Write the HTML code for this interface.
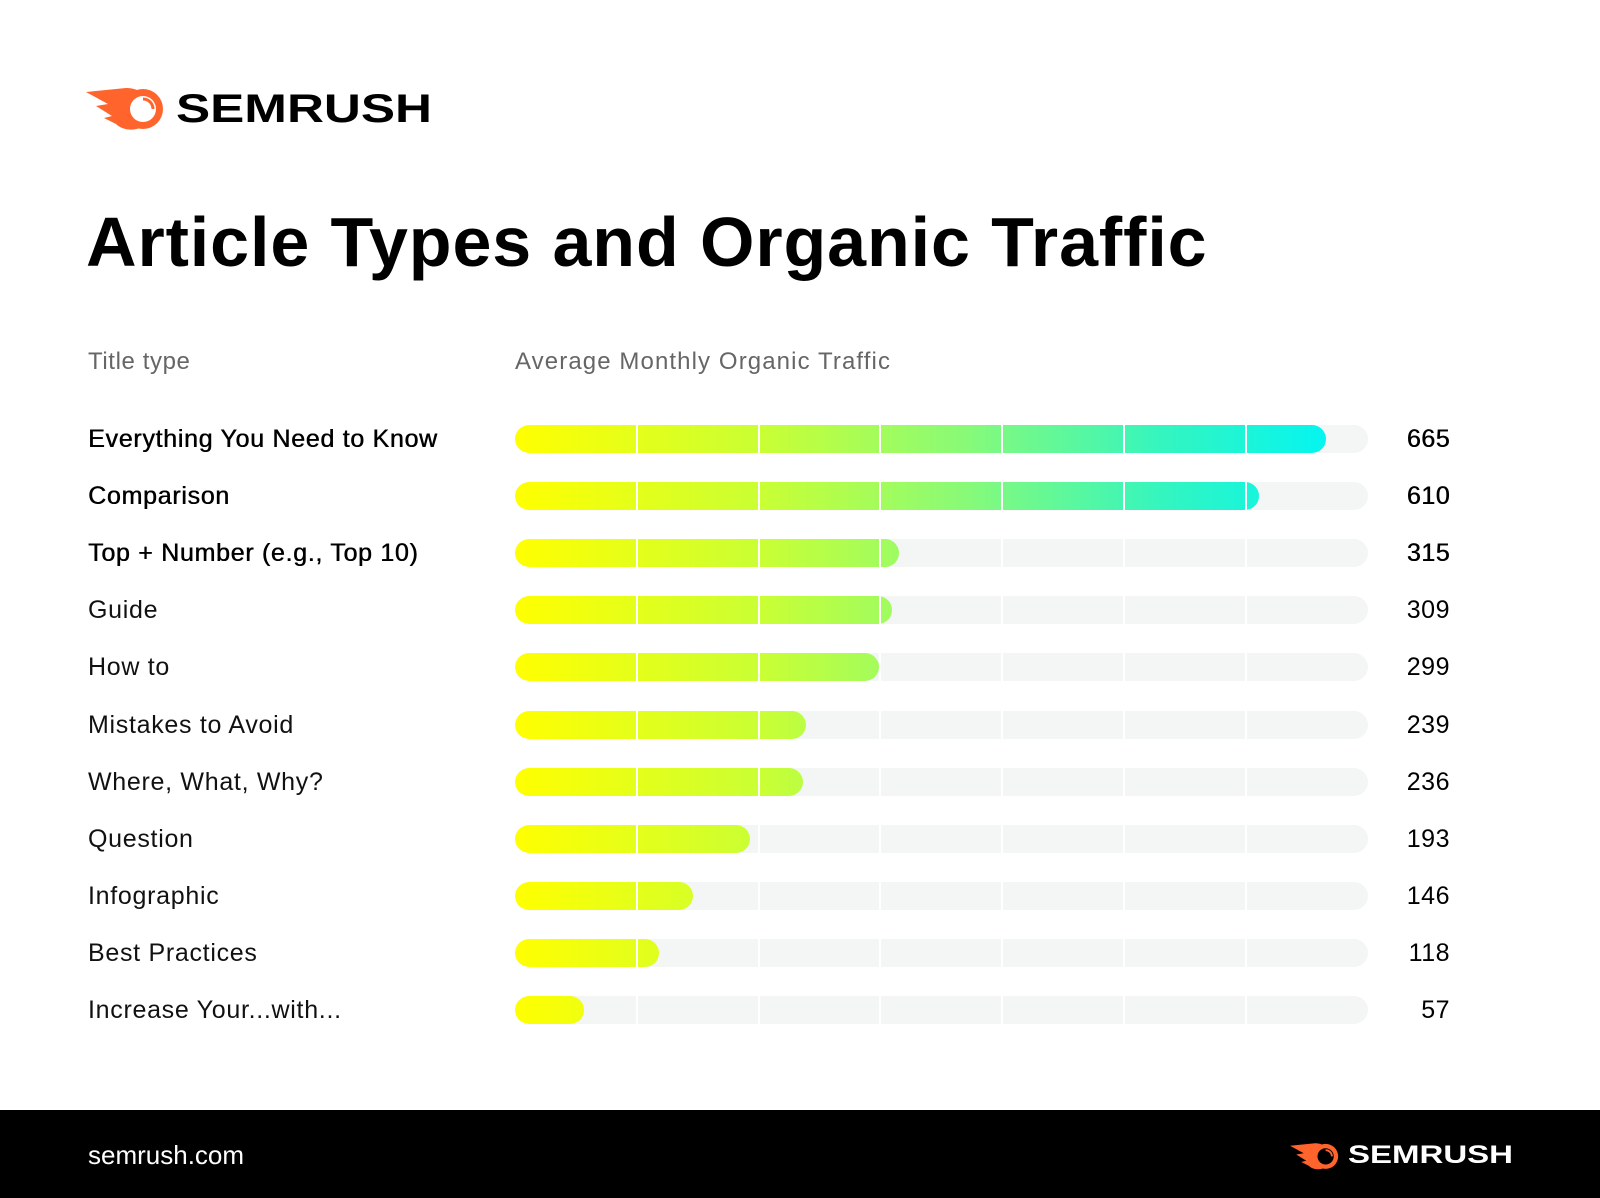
<!DOCTYPE html>
<html><head><meta charset="utf-8"><style>
body{margin:0;width:1600px;height:1198px;background:#fff;position:relative;overflow:hidden;font-family:"Liberation Sans",sans-serif;color:#000}
.a{position:absolute}
.lbl{left:88px;font-size:25px;line-height:30px;color:#111;letter-spacing:0.7px}
.val{width:120px;left:1330px;text-align:right;font-size:25px;line-height:30px;letter-spacing:0.5px}
.track{left:515px;width:853px;height:28px;border-radius:14px;background:#f4f5f5;overflow:hidden}
.bar{position:absolute;left:0;top:0;height:28px;border-radius:14px;background:linear-gradient(90deg,#ffff00 0px,#c8ff35 250px,#88fa78 450px,#33f5c0 650px,#05f5f0 810px);background-size:853px 28px}
.div{position:absolute;top:0;width:2px;height:28px;background:#fff}
</style></head><body>
<svg class="a" style="left:86px;top:86px" width="80" height="48" viewBox="0 0 80 48">
<path d="M0 6 L40 2 C52 2 60 8 62 14 L58 40 C48 46 36 44 30 38 L18 32 L26 30 L10 20 L22 18 Z" fill="#ff642d"/>
<circle cx="57" cy="23" r="20" fill="#ff642d"/>
<circle cx="57" cy="23" r="13" fill="#fff"/>
<path d="M57 13 A10 10 0 0 1 67 23" stroke="#ff642d" stroke-width="3" fill="none"/>
</svg>
<div class="a" style="left:176px;top:86px;font-size:40px;font-weight:bold;line-height:46px;transform:scaleX(1.28);transform-origin:left">SEMRUSH</div>
<div class="a" style="left:86px;top:200px;font-size:70px;font-weight:bold;line-height:84px;letter-spacing:0.9px">Article Types and Organic Traffic</div>
<div class="a" style="left:88px;top:348px;font-size:24px;color:#666;letter-spacing:0.6px">Title type</div>
<div class="a" style="left:515px;top:348px;font-size:24px;color:#666;letter-spacing:1.1px">Average Monthly Organic Traffic</div>
<div id="rows"></div>
<div class="a" style="left:0;top:1110px;width:1600px;height:88px;background:#000"></div>
<div class="a" style="left:88px;top:1140px;font-size:26px;color:#fff">semrush.com</div>
<svg class="a" style="left:1290px;top:1142px" width="50" height="30" viewBox="0 0 80 48">
<path d="M0 6 L40 2 C52 2 60 8 62 14 L58 40 C48 46 36 44 30 38 L18 32 L26 30 L10 20 L22 18 Z" fill="#ff642d"/>
<circle cx="57" cy="23" r="20" fill="#ff642d"/>
<circle cx="57" cy="23" r="13" fill="#000"/>
<path d="M57 13 A10 10 0 0 1 67 23" stroke="#ff642d" stroke-width="3" fill="none"/>
</svg>
<div class="a" style="left:1348px;top:1140px;font-size:25px;font-weight:bold;color:#fff;line-height:30px;transform:scaleX(1.32);transform-origin:left">SEMRUSH</div>
<script>
var d=[["Everything You Need to Know",665,1],["Comparison",610,1],["Top + Number (e.g., Top 10)",315,1],["Guide",309],["How to",299],["Mistakes to Avoid",239],["Where, What, Why?",236],["Question",193],["Infographic",146],["Best Practices",118],["Increase Your...with...",57]];
var h="";
d.forEach(function(r,i){var y=425+i*57.1;var w=r[1]*1.219;var b=r[2]?'color:#000;text-shadow:0.5px 0 0 #000;':'';
h+='<div class="a lbl" style="top:'+(y-1)+'px;'+b+'">'+r[0]+'</div>';
h+='<div class="a val" style="top:'+(y-1)+'px;'+b+'">'+r[1]+'</div>';
h+='<div class="a track" style="top:'+y+'px"><div class="bar" style="width:'+w+'px"></div>';
for(var k=1;k<7;k++)h+='<div class="div" style="left:'+(k*121.8-1)+'px"></div>';
h+='</div>';});
document.getElementById("rows").innerHTML=h;
</script>
</body></html>
